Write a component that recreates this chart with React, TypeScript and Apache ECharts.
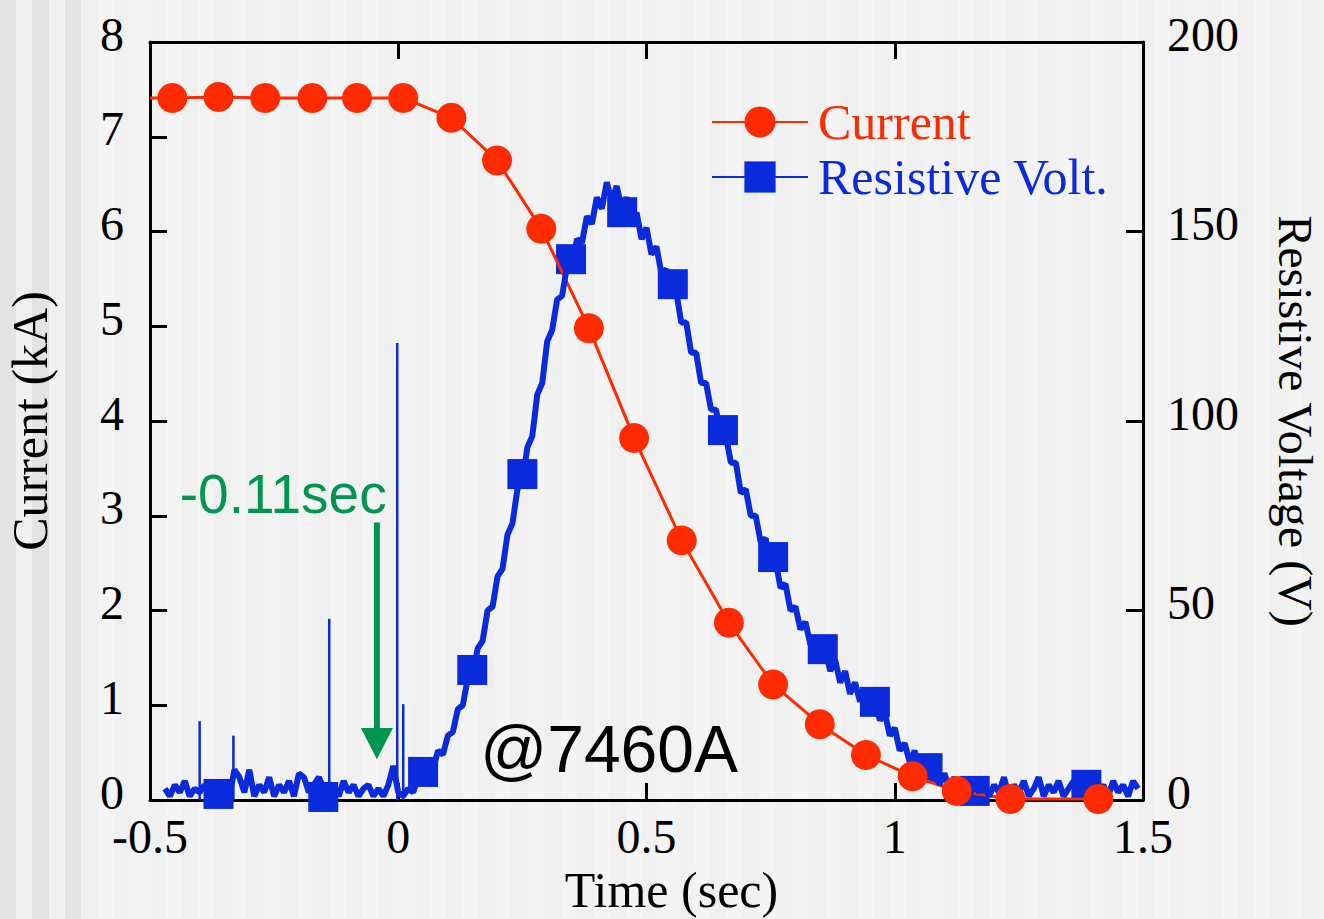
import React, { useEffect, useRef } from "react";
import * as echarts from "echarts";

// ---------- data ----------
const X_TICKS = [-0.5, 0, 0.5, 1, 1.5];
const CURRENT_TICKS = [0, 1, 2, 3, 4, 5, 6, 7, 8];
const VOLT_TICKS = [0, 50, 100, 150, 200];

const SERIES_NAMES = ["Current", "Resistive Volt."];

// Current (kA): [time (s), current]
const CURRENT_START: [number, number] = [-0.5, 7.41];
const CURRENT: [number, number][] = [
  [-0.455, 7.41], [-0.362, 7.42], [-0.268, 7.41], [-0.173, 7.41], [-0.083, 7.41],
  [0.01, 7.41], [0.107, 7.2], [0.199, 6.75], [0.288, 6.03], [0.384, 4.98],
  [0.475, 3.82], [0.571, 2.74], [0.666, 1.87], [0.755, 1.22], [0.849, 0.8],
  [0.942, 0.475], [1.036, 0.25], [1.125, 0.095], [1.233, 0.01], [1.41, 0.01],
];

// Resistive voltage trace (V), sampled every 0.01 s starting at -0.47 s
const VOLT_T0 = -0.47;
const VOLT_DT = 0.01;
const VOLT_TRACE: number[] = [
  3, 1, 4, 2, 5, 1, 3, 2, 4, 1, // -0.47
  3, 2, 5, 1, 8, 6, 2, 8, 1, 4, // -0.37
  2, 6, 1, 4, 2, 5, 1, 7, 6, 2, // -0.27
  4, 6, 3, 2, 4, 1, 5, 2, 4, 1, // -0.17
  3, 4, 1, 3, 1, 4, 9, 2, 1, 3, // -0.07
  2, 6, 5, 9, 8, 13, 12, 17, 18, 24, // 0.03
  25, 32, 33, 40, 42, 50, 51, 59, 61, 70, // 0.13
  73, 82, 84, 93, 96, 107, 110, 121, 124, 132, // 0.23
  133, 141, 141, 148, 147, 154, 152, 159, 156, 163, // 0.33
  158, 162, 156, 159, 152, 155, 148, 151, 144, 146, // 0.43
  139, 140, 134, 134, 126, 126, 118, 118, 110, 110, // 0.53
  103, 103, 96, 96, 89, 89, 81, 82, 75, 75, // 0.63
  68, 69, 62, 63, 56, 57, 50, 51, 45, 47, // 0.73
  41, 43, 38, 40, 34, 37, 31, 34, 28, 31, // 0.83
  26, 29, 24, 27, 21, 23, 17, 19, 13, 15, // 0.93
  10, 13, 7, 11, 6, 9, 4, 7, 3, 6, // 1.03
  2, 5, 1, 4, 2, 5, 1, 4, 2, 6, // 1.13
  1, 4, 2, 5, 1, 3, 6, 1, 4, 2, // 1.23
  5, 1, 3, 5, 2, 4, 1, 5, 2, 4, // 1.33
  1, 5, 2, 4, 1, 5, 3, // 1.43
];

// Isolated noise spikes on the voltage trace: [time, peak V]
const VOLT_SPIKES: [number, number][] = [
  [-0.4, 20.8], [-0.332, 17], [-0.139, 47.8], [-0.002, 120.6], [0.01, 25.3],
];

// Square markers on the voltage trace
const VOLT_MARKERS: [number, number][] = [
  [-0.362, 1.6], [-0.151, 0.8], [0.05, 7.4], [0.149, 34.3], [0.25, 86.0],
  [0.348, 142.7], [0.451, 155.1], [0.553, 136.1], [0.654, 97.6], [0.755, 64.1],
  [0.855, 39.8], [0.96, 25.9], [1.066, 8.4], [1.161, 2.4], [1.386, 4.0],
];

// Annotations (data coordinates: time, current kA)
const ARROW_TEXT = "-0.11sec";
const ARROW_TEXT_POS: [number, number] = [-0.44, 3.23];
const ARROW_X = -0.043;
const ARROW_TOP = 2.93;
const ARROW_HEAD_BASE = 0.76;
const ARROW_TIP = 0.43;
const NOTE_TEXT = "@7460A";
const NOTE_POS: [number, number] = [0.165, 0.54];

// ---------- styles ----------
const RED = "#ff2a00";
const BLUE = "#0a2bdc";
const GREEN = "#009652";
const SERIF = '"Liberation Serif", "Times New Roman", serif';
const SANS = '"Liberation Sans", Arial, sans-serif';

export default function App() {
  const ref = useRef<HTMLDivElement>(null);

  useEffect(() => {
    if (!ref.current) return;
    const chart = echarts.init(ref.current, null, { renderer: "svg" });

    const trace = VOLT_TRACE.map((v, i) => [
      +(VOLT_T0 + i * VOLT_DT).toFixed(3),
      v,
    ]);

    const currentData: any[] = [
      { value: CURRENT_START, symbolSize: 0 },
      ...CURRENT.map((p) => ({ value: p })),
    ];

    const axisLine = { show: true, onZero: false, lineStyle: { color: "#000", width: 3 } };
    const axisTick = {
      show: true,
      inside: true,
      length: 17,
      lineStyle: { color: "#000", width: 3 },
    };
    const xMin = X_TICKS[0];
    const xMax = X_TICKS[X_TICKS.length - 1];
    const xInt = X_TICKS[1] - X_TICKS[0];

    const yLabel = (margin: number) => ({
      fontFamily: SERIF,
      fontSize: 48,
      color: "#000",
      margin,
      verticalAlign: "bottom",
      lineHeight: 16,
    });

    const spikeSeries = VOLT_SPIKES.map(([t, v], k) => ({
      type: "line",
      name: "spike" + k,
      xAxisIndex: 0,
      yAxisIndex: 1,
      data: [
        [t, 0],
        [t, v],
      ],
      symbol: "none",
      lineStyle: { color: BLUE, width: 2.5 },
      silent: true,
      clip: false,
    }));

    chart.setOption({
      animation: false,
      backgroundColor: "transparent",
      grid: {
        left: 150,
        right: 181,
        top: 42,
        bottom: 119,
        containLabel: false,
        outerBoundsMode: "none",
      },
      legend: {
        orient: "vertical",
        left: 711,
        top: 97,
        padding: 0,
        itemWidth: 96,
        itemHeight: 39,
        itemGap: 5,
        selectedMode: false,
        data: [
          { name: SERIES_NAMES[0], textStyle: { color: RED } },
          { name: SERIES_NAMES[1], textStyle: { color: BLUE } },
        ],
        textStyle: {
          fontFamily: SERIF,
          fontSize: 50,
          lineHeight: 47,
          padding: [0, 0, 0, 5],
        },
      },
      xAxis: [
        {
          type: "value",
          position: "bottom",
          min: xMin,
          max: xMax,
          interval: xInt,
          name: "Time (sec)",
          nameLocation: "middle",
          nameGap: 64,
          nameTextStyle: {
            fontFamily: SERIF,
            fontSize: 50,
            color: "#000",
            padding: [0, 0, 0, 50],
          },
          axisLine,
          axisTick,
          splitLine: { show: false },
          axisLabel: {
            fontFamily: SERIF,
            fontSize: 48,
            color: "#000",
            margin: 12,
          },
        },
        {
          type: "value",
          position: "top",
          min: xMin,
          max: xMax,
          interval: xInt,
          axisLine,
          axisTick,
          splitLine: { show: false },
          axisLabel: { show: false },
        },
      ],
      yAxis: [
        {
          type: "value",
          position: "left",
          min: CURRENT_TICKS[0],
          max: CURRENT_TICKS[CURRENT_TICKS.length - 1],
          interval: CURRENT_TICKS[1] - CURRENT_TICKS[0],
          name: "Current (kA)",
          nameLocation: "middle",
          nameGap: 95,
          nameTextStyle: { fontFamily: SERIF, fontSize: 50, color: "#000" },
          axisLine,
          axisTick,
          splitLine: { show: false },
          axisLabel: yLabel(26),
        },
        {
          type: "value",
          position: "right",
          min: VOLT_TICKS[0],
          max: VOLT_TICKS[VOLT_TICKS.length - 1],
          interval: VOLT_TICKS[1] - VOLT_TICKS[0],
          name: "Resistive Voltage (V)",
          nameLocation: "middle",
          nameRotate: -90,
          nameGap: 133,
          nameTextStyle: {
            fontFamily: SERIF,
            fontSize: 48,
            lineHeight: 38,
            color: "#000",
          },
          axisLine,
          axisTick,
          splitLine: { show: false },
          axisLabel: yLabel(24),
        },
      ],
      series: [
        {
          type: "line",
          name: SERIES_NAMES[0],
          xAxisIndex: 0,
          yAxisIndex: 0,
          data: currentData,
          symbol: "circle",
          symbolSize: 30,
          showSymbol: true,
          color: RED,
          itemStyle: { color: RED, opacity: 1 },
          lineStyle: { color: RED, width: 3 },
          clip: false,
        },
        {
          type: "line",
          name: SERIES_NAMES[1],
          xAxisIndex: 0,
          yAxisIndex: 1,
          data: trace,
          symbol: "rect",
          symbolSize: 30,
          showSymbol: false,
          color: BLUE,
          itemStyle: { color: BLUE, opacity: 1 },
          lineStyle: { color: BLUE, width: 6 },
          clip: false,
        },
        ...spikeSeries,
        {
          type: "scatter",
          name: "Resistive Volt. markers",
          xAxisIndex: 0,
          yAxisIndex: 1,
          data: VOLT_MARKERS,
          symbol: "rect",
          symbolSize: 30,
          itemStyle: { color: BLUE, opacity: 1 },
          clip: false,
        },
      ],
    });

    const px = (t: number, i: number) =>
      chart.convertToPixel({ xAxisIndex: 0, yAxisIndex: 0 }, [t, i]) as number[];

    const shaftTop = px(ARROW_X, ARROW_TOP);
    const headBase = px(ARROW_X, ARROW_HEAD_BASE);
    const tip = px(ARROW_X, ARROW_TIP);
    const t1 = px(ARROW_TEXT_POS[0], ARROW_TEXT_POS[1]);
    const t2 = px(NOTE_POS[0], NOTE_POS[1]);
    const halfHead = 16;

    chart.setOption({
      graphic: [
        {
          type: "line",
          shape: { x1: shaftTop[0], y1: shaftTop[1], x2: headBase[0], y2: headBase[1] + 2 },
          style: { stroke: GREEN, lineWidth: 6 },
          z: 10,
        },
        {
          type: "polygon",
          shape: {
            points: [
              [headBase[0] - halfHead, headBase[1]],
              [headBase[0] + halfHead, headBase[1]],
              [tip[0], tip[1]],
            ],
          },
          style: { fill: GREEN },
          z: 10,
        },
        {
          type: "text",
          style: {
            text: ARROW_TEXT,
            x: t1[0],
            y: t1[1],
            font: `55px ${SANS}`,
            fill: GREEN,
            align: "left",
            verticalAlign: "middle",
          },
          z: 10,
        },
        {
          type: "text",
          style: {
            text: NOTE_TEXT,
            x: t2[0],
            y: t2[1],
            font: `66px ${SANS}`,
            fill: "#000",
            align: "left",
            verticalAlign: "middle",
          },
          z: 10,
        },
      ],
    });

    return () => chart.dispose();
  }, []);

  return (
    <div
      style={{
        position: "absolute",
        left: 0,
        top: 0,
        width: 1324,
        height: 919,
        overflow: "hidden",
        background:
          "repeating-linear-gradient(90deg, #f4f4f4 0px, #f4f4f4 16.5px, #f0f0f0 16.5px, #f0f0f0 33px)",
      }}
    >
      <div
        style={{
          position: "absolute",
          left: 0,
          top: 0,
          width: 81,
          height: 919,
          background:
            "repeating-linear-gradient(90deg, #e3e3e3 0px, #e3e3e3 16px, #f0f0f0 16px, #f0f0f0 32.5px)",
        }}
      />
      <div
        ref={ref}
        style={{ position: "absolute", left: 0, top: 0, width: 1324, height: 919 }}
      />
    </div>
  );
}
